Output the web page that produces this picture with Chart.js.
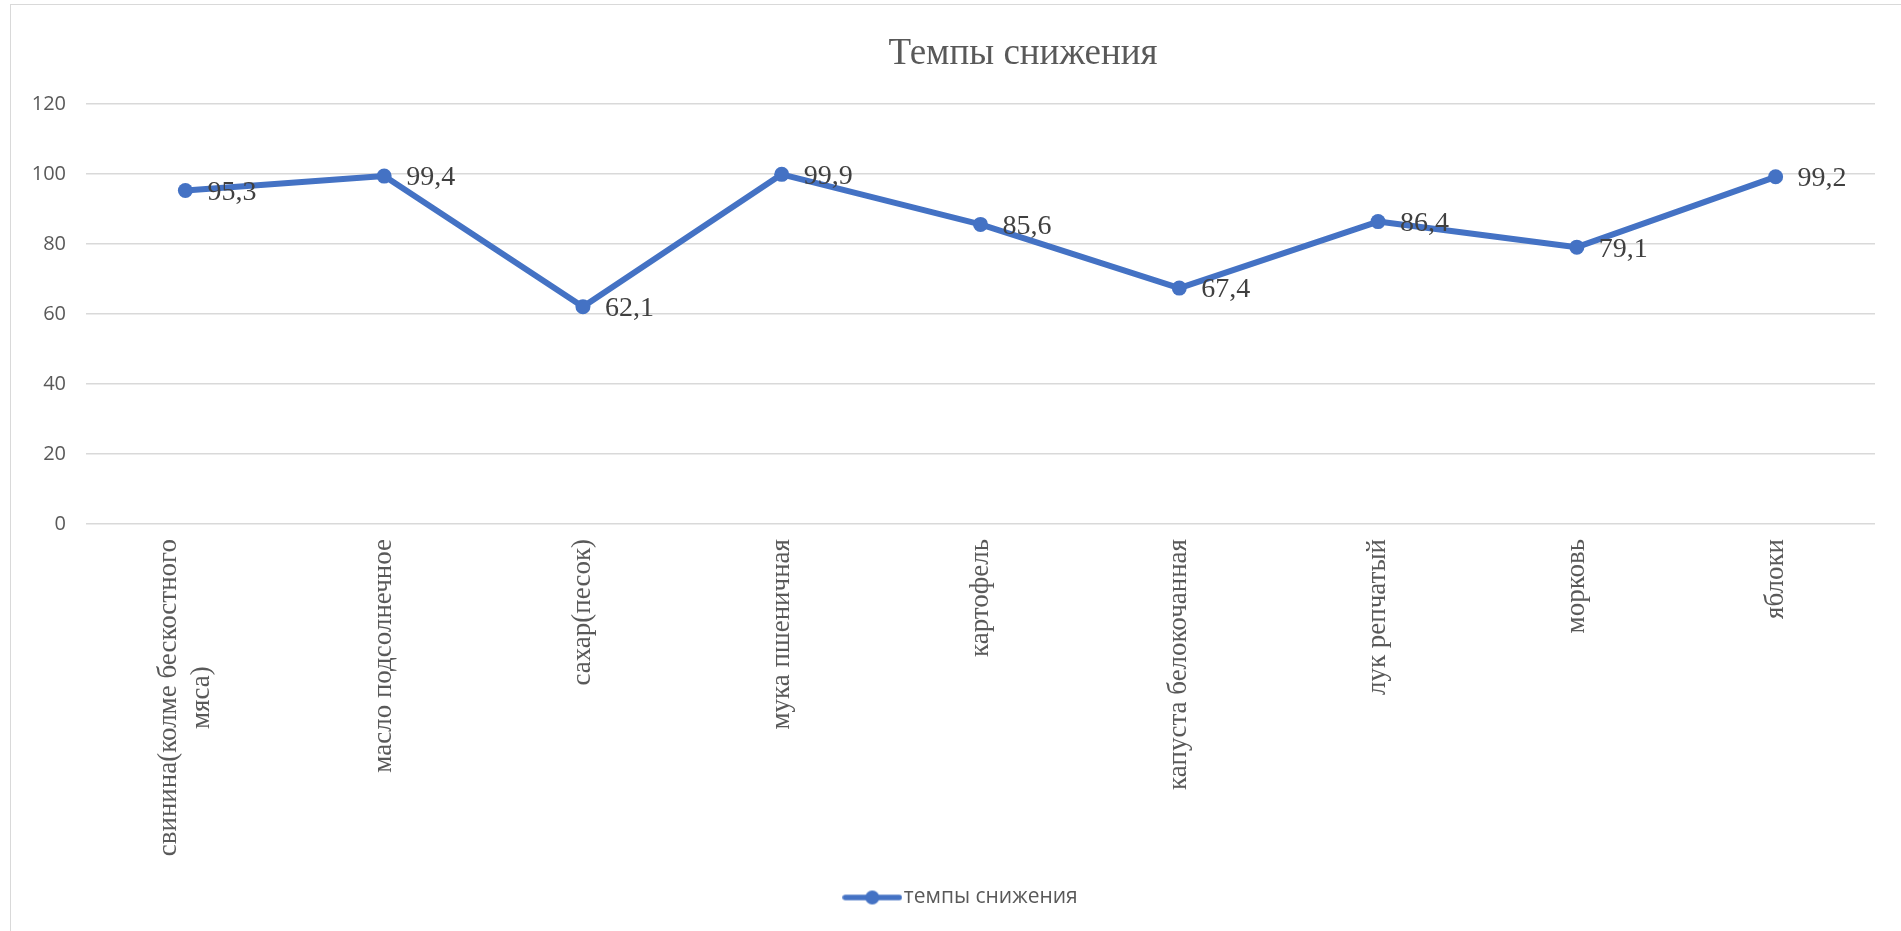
<!DOCTYPE html>
<html>
<head>
<meta charset="utf-8">
<script src="https://cdn.jsdelivr.net/npm/chart.js@4.4.0/dist/chart.umd.min.js"></script>
<style>
    html, body { margin: 0; padding: 0; background: #fff; overflow: hidden; }
    #frame { position: absolute; left: 10px; top: 4px; width: 2000px; height: 1000px;
             border-left: 1.5px solid #d9d9d9; border-top: 1.5px solid #d9d9d9; }
    #wrap { position: absolute; left: 0; top: 0; width: 1901px; height: 931px; }
</style>
</head>
<body>
<div id="frame"></div>
<div id="wrap"><canvas id="myChart"></canvas></div>
<script>
// Chart data
const chartTitle = 'Темпы снижения';
const seriesName = 'темпы снижения';
const categories = [
    ['свинина(колме бескостного', 'мяса)'],
    'масло подсолнечное',
    'сахар(песок)',
    'мука пшеничная',
    'картофель',
    'капуста белокочанная',
    'лук репчатый',
    'морковь',
    'яблоки'
];
const values = [95.3, 99.4, 62.1, 99.9, 85.6, 67.4, 86.4, 79.1, 99.2];
const yTicks = [0, 20, 40, 60, 80, 100, 120];

const blue = '#4472C4';
const textGrey = '#595959';

// Legend marker: line with a dot, like Excel
function createLegendMarker() {
    const c = document.createElement('canvas');
    c.width = 60;
    c.height = 18;
    const g = c.getContext('2d');
    g.strokeStyle = blue;
    g.lineWidth = 5.5;
    g.lineCap = 'round';
    g.beginPath();
    g.moveTo(3, 9);
    g.lineTo(57, 9);
    g.stroke();
    g.fillStyle = blue;
    g.beginPath();
    g.arc(30, 9, 7, 0, Math.PI * 2);
    g.fill();
    return c;
}

// Title, value labels and rotated category labels
const customLabels = {
    id: 'customLabels',
    afterLayout(chart) {
        // legend in the original sits a little right of the canvas centre
        chart.legend.left += 32;
    },
    afterDatasetsDraw(chart) {
        const ctx = chart.ctx;
        const meta = chart.getDatasetMeta(0);
        ctx.save();
        ctx.font = '28px "Liberation Serif"';
        ctx.fillStyle = '#404040';
        ctx.textAlign = 'left';
        ctx.textBaseline = 'middle';
        meta.data.forEach((pt, i) => {
            ctx.fillText(String(values[i]).replace('.', ','), pt.x + 22, pt.y + 2);
        });
        ctx.restore();
    },
    afterDraw(chart) {
        const ctx = chart.ctx;
        const xScale = chart.scales.x;

        ctx.save();
        ctx.font = '27px "Liberation Serif"';
        ctx.fillStyle = textGrey;
        ctx.textAlign = 'center';
        ctx.textBaseline = 'middle';
        const lineH = 33;
        categories.forEach((label, i) => {
            const lines = Array.isArray(label) ? label : [label];
            const widest = Math.max(...lines.map(l => ctx.measureText(l).width));
            const x = xScale.getPixelForValue(i);
            const top = xScale.top + 15;
            ctx.save();
            ctx.translate(x, top + widest / 2);
            ctx.rotate(-Math.PI / 2);
            lines.forEach((line, j) => {
                ctx.fillText(line, 0, (j - (lines.length - 1) / 2) * lineH);
            });
            ctx.restore();
        });

        ctx.font = '37px "Liberation Serif"';
        ctx.fillStyle = textGrey;
        ctx.textAlign = 'center';
        ctx.textBaseline = 'middle';
        ctx.fillText(chartTitle, 1023, 54);
        ctx.restore();
    }
};

const ctx = document.getElementById('myChart').getContext('2d');
const myChart = new Chart(ctx, {
    type: 'line',
    data: {
        labels: categories,
        datasets: [{
            label: seriesName,
            data: values,
            borderColor: blue,
            backgroundColor: blue,
            borderWidth: 6,
            borderJoinStyle: 'round',
            tension: 0,
            pointRadius: 7.5,
            pointBorderWidth: 0,
            pointBackgroundColor: blue
        }]
    },
    options: {
        responsive: true,
        maintainAspectRatio: false,
        animation: false,
        layout: { padding: { top: 104, left: 22, right: 26, bottom: 13 } },
        plugins: {
            title: { display: false },
            tooltip: { enabled: false },
            legend: {
                position: 'bottom',
                labels: {
                    usePointStyle: true,
                    pointStyle: createLegendMarker(),
                    pointStyleWidth: 42,
                    padding: 10,
                    color: textGrey,
                    font: { family: '"Open Sans"', size: 21 }
                }
            }
        },
        scales: {
            x: {
                offset: true,
                grid: { display: false },
                border: { display: false },
                ticks: { display: false },
                afterFit: scale => { scale.height = 353; }
            },
            y: {
                min: 0,
                max: 120,
                afterBuildTicks: scale => { scale.ticks = yTicks.map(v => ({ value: v })); },
                grid: { color: '#d9d9d9', lineWidth: 1.5, drawTicks: false },
                border: { display: false },
                ticks: {
                    padding: 20,
                    color: textGrey,
                    font: { family: '"Open Sans"', size: 20 }
                },
                afterFit: scale => { scale.width = 64; }
            }
        }
    },
    plugins: [customLabels]
});
</script>
</body>
</html>
